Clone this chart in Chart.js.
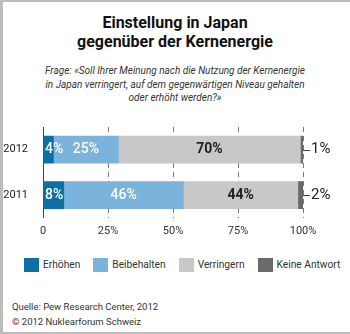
<!DOCTYPE html>
<html>
<head>
<meta charset="utf-8">
<script src="https://cdn.jsdelivr.net/npm/chart.js@4/dist/chart.umd.min.js"></script>
<style>
    body {
        margin: 0;
        background: #fff;
        font-family: Roboto, "Noto Sans", sans-serif;
    }
    .frame {
        position: relative;
        width: 347px;
        height: 330px;
        border-top: 2px solid #bcbcbc;
        border-left: 3px solid #bcbcbc;
        border-bottom: 2px solid #bcbcbc;
        overflow: hidden;
    }
    .title {
        position: absolute;
        top: 11px;
        left: -3px;
        width: 350px;
        text-align: center;
        font-size: 16px;
        font-weight: bold;
        line-height: 19px;
        color: #111;
    }
    .subtitle {
        position: absolute;
        top: 62px;
        left: -3px;
        width: 350px;
        text-align: center;
        font-size: 10px;
        font-style: italic;
        line-height: 13.5px;
        color: #333;
    }
    .chart-box {
        position: absolute;
        top: 108px;
        left: -3px;
        width: 350px;
        height: 137px;
    }
    .legend {
        position: absolute;
        top: 256px;
        left: 21px;
        width: 330px;
        display: flex;
        white-space: nowrap;
        font-size: 10.2px;
        line-height: 14px;
        color: #333;
    }
    .legend span {
        display: flex;
        align-items: center;
        margin-right: 13px;
    }
    .legend i {
        display: inline-block;
        flex: none;
        width: 15px;
        height: 14px;
        margin-right: 4px;
    }
    .footer {
        position: absolute;
        left: 9px;
        top: 297px;
        font-size: 9.5px;
        line-height: 15px;
        color: #333;
    }
</style>
</head>
<body>
<div class="frame">
    <div class="title">Einstellung in Japan<br>gegenüber der Kernenergie</div>
    <div class="subtitle">Frage: «Soll Ihrer Meinung nach die Nutzung der Kernenergie<br>in Japan verringert, auf dem gegenwärtigen Niveau gehalten<br>oder erhöht werden?»</div>
    <div class="chart-box"><canvas id="japanChart" width="350" height="137"></canvas></div>
    <div class="legend" id="legend"></div>
    <div class="footer">Quelle: Pew Research Center, 2012<br>© 2012 Nuklearforum Schweiz</div>
</div>

<script>
const years = ["2012", "2011"];
const erhoehen = [4, 8];
const beibehalten = [25, 46];
const verringern = [70, 44];
const keineAntwort = [1, 2];
const xTicks = [0, 25, 50, 75, 100];

const seriesNames = ["Erhöhen", "Beibehalten", "Verringern", "Keine Antwort"];
const seriesColors = ["#0c6fa6", "#7ab4dc", "#c8c8c8", "#6a6a6a"];
const labelColors = ["#ffffff", "#ffffff", "#222222", null];

// labels inside the bars + outside labels for "Keine Antwort"
const barLabels = {
    id: "barLabels",
    afterDatasetsDraw(chart) {
        const c = chart.ctx;
        const area = chart.chartArea;
        c.save();
        c.textBaseline = "middle";
        chart.data.datasets.forEach((ds, di) => {
            const meta = chart.getDatasetMeta(di);
            meta.data.forEach((bar, i) => {
                const text = ds.data[i] + "%";
                if (labelColors[di]) {
                    c.font = (di === 2 ? "bold " : "500 ") + "14px Roboto";
                    c.fillStyle = labelColors[di];
                    c.textAlign = "center";
                    let x = (bar.base + bar.x) / 2;
                    const w = c.measureText(text).width;
                    if (x - w / 2 < area.left + 2) x = area.left + 2 + w / 2;
                    c.fillText(text, x, bar.y);
                } else {
                    c.strokeStyle = "#444";
                    c.lineWidth = 1;
                    c.beginPath();
                    c.moveTo(bar.x, Math.round(bar.y) + 0.5);
                    c.lineTo(bar.x + 7, Math.round(bar.y) + 0.5);
                    c.stroke();
                    c.font = "15px Roboto";
                    c.fillStyle = "#222";
                    c.textAlign = "left";
                    c.fillText(text, bar.x + 8, bar.y);
                }
            });
        });
        c.restore();
    }
};

const ctx = document.getElementById("japanChart").getContext("2d");

const japanChart = new Chart(ctx, {
    type: "bar",
    data: {
        labels: years,
        datasets: [erhoehen, beibehalten, verringern, keineAntwort].map((values, i) => ({
            label: seriesNames[i],
            data: values,
            backgroundColor: seriesColors[i],
            borderWidth: 0,
            barThickness: 27
        }))
    },
    options: {
        indexAxis: "y",
        responsive: false,
        animation: false,
        layout: {
            padding: { top: 17, right: 47, left: 0, bottom: 2 }
        },
        plugins: {
            legend: { display: false },
            tooltip: { enabled: false }
        },
        scales: {
            x: {
                stacked: true,
                min: 0,
                max: 100,
                afterBuildTicks(scale) {
                    scale.ticks = xTicks.map(v => ({ value: v }));
                },
                ticks: {
                    padding: 7,
                    color: "#333",
                    font: { family: "Roboto", size: 11 },
                    callback: v => v === 0 ? "0" : v + "%"
                },
                grid: {
                    color: "#777",
                    drawTicks: false
                },
                border: {
                    display: false,
                    dash: [5, 4]
                }
            },
            y: {
                stacked: true,
                afterFit(scale) {
                    scale.width = 43;
                },
                ticks: {
                    padding: 7,
                    color: "#222",
                    font: { family: "Roboto", size: 11 }
                },
                grid: { display: false },
                border: { display: true, color: "#444", width: 1 }
            }
        }
    },
    plugins: [barLabels]
});

// legend from the same dataset names and colours
const legendBox = document.getElementById("legend");
japanChart.data.datasets.forEach(ds => {
    const item = document.createElement("span");
    const swatch = document.createElement("i");
    swatch.style.background = ds.backgroundColor;
    item.appendChild(swatch);
    item.appendChild(document.createTextNode(ds.label));
    legendBox.appendChild(item);
});
</script>
</body>
</html>
